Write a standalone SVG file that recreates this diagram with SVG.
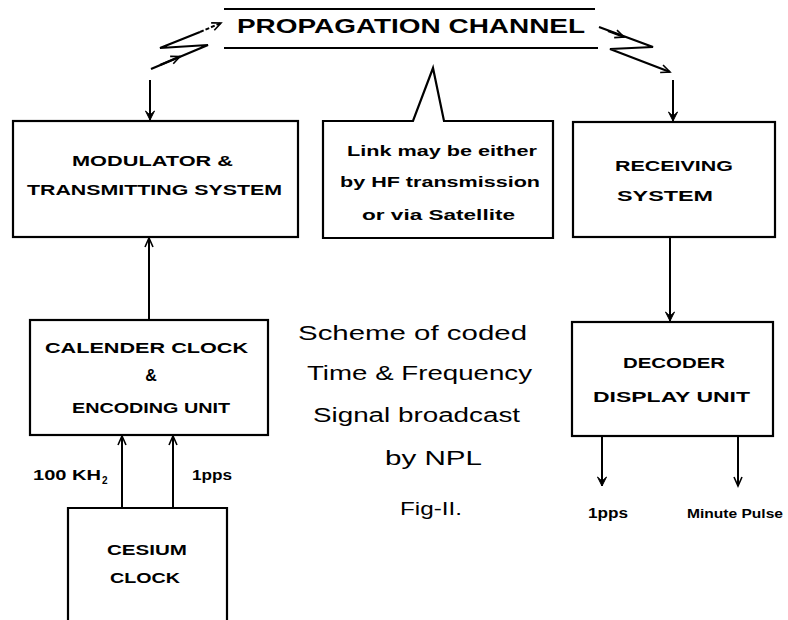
<svg xmlns="http://www.w3.org/2000/svg" width="788" height="620" viewBox="0 0 788 620">
  <style>
    .box { fill: none; stroke: #000; stroke-width: 2.2; }
    .line { fill: none; stroke: #000; stroke-width: 2; }
    .bolt { fill: none; stroke: #000; stroke-width: 2.2; stroke-linejoin: miter; }
    .cap { font-family: "Liberation Sans", Arial, sans-serif; font-weight: bold; font-size: 14.5px; fill: #000; }
    .note { font-family: "Liberation Sans", Arial, sans-serif; font-weight: bold; font-size: 15px; fill: #000; }
    .title { font-family: "Liberation Sans", Arial, sans-serif; font-weight: bold; font-size: 20px; fill: #000; }
    .cap2 { font-family: "Liberation Sans", Arial, sans-serif; font-size: 20px; fill: #000; }
  </style>
  <defs>
    <marker id="solid" viewBox="-10 -6 12 12" markerWidth="12" markerHeight="12" refX="0" refY="0" orient="auto" markerUnits="userSpaceOnUse">
      <path d="M-9,-4.5 L0,0 L-9,4.5 L-5,0 Z" fill="#000" stroke="#000" stroke-width="1"/>
    </marker>
    <marker id="open" viewBox="-10 -6 12 12" markerWidth="12" markerHeight="12" refX="0" refY="0" orient="auto" markerUnits="userSpaceOnUse">
      <path d="M-9,-4 L0,0 L-9,4" fill="none" stroke="#000" stroke-width="1.6"/>
    </marker>
  </defs>

  <!-- channel banner -->
  <g id="channel">
    <line x1="224" y1="9" x2="595" y2="9" class="line" stroke-width="2.6"/>
    <line x1="224" y1="48" x2="598" y2="48" class="line" stroke-width="2.6"/>
    <text x="237" y="33" class="title" textLength="348" lengthAdjust="spacingAndGlyphs">PROPAGATION CHANNEL</text>
  </g>

  <!-- radio links drawn as lightning strokes, plus all box-to-box arrows -->
  <g id="connectors">
    <polyline class="bolt" points="151,69 208,45 160,48 200,32"/>
    <line x1="200" y1="32" x2="221" y2="23" class="line" stroke-width="1.6" stroke-dasharray="4 2" marker-end="url(#open)"/>
    <line x1="160" y1="65" x2="180" y2="56.5" class="line" stroke-width="1" marker-end="url(#open)"/>

    <polyline class="bolt" points="599,27 653,47 610,49 670,72" marker-end="url(#open)"/>
    <line x1="608" y1="31" x2="624" y2="37" class="line" stroke-width="1" marker-end="url(#open)"/>

    <line x1="150" y1="80" x2="150" y2="120" class="line" marker-end="url(#solid)"/>
    <line x1="673" y1="80" x2="673" y2="121" class="line" marker-end="url(#solid)"/>
    <line x1="149" y1="320" x2="149" y2="238" class="line" marker-end="url(#open)"/>
    <line x1="122" y1="508" x2="122" y2="436" class="line" marker-end="url(#open)"/>
    <line x1="173" y1="508" x2="173" y2="436" class="line" marker-end="url(#open)"/>
    <line x1="670" y1="237" x2="670" y2="321" class="line" marker-end="url(#solid)"/>
    <line x1="602" y1="436" x2="602" y2="486" class="line" marker-end="url(#solid)"/>
    <line x1="738" y1="436" x2="738" y2="486" class="line" marker-end="url(#open)"/>
  </g>

  <g id="modulator">
    <rect x="13" y="121" width="285" height="116" class="box"/>
    <text x="72" y="166" class="cap" textLength="161" lengthAdjust="spacingAndGlyphs">MODULATOR &amp;</text>
    <text x="27" y="195" class="cap" textLength="255" lengthAdjust="spacingAndGlyphs">TRANSMITTING SYSTEM</text>
  </g>

  <g id="link-note">
    <path d="M323,121 L413,121 L433,68 L444,121 L553,121 L553,238 L323,238 Z" class="box"/>
    <text x="347" y="156" class="note" textLength="190" lengthAdjust="spacingAndGlyphs">Link may be either</text>
    <text x="340" y="187" class="note" textLength="200" lengthAdjust="spacingAndGlyphs">by HF transmission</text>
    <text x="362" y="220" class="note" textLength="153" lengthAdjust="spacingAndGlyphs">or via Satellite</text>
  </g>

  <g id="receiving">
    <rect x="573" y="122" width="202" height="115" class="box"/>
    <text x="615" y="171" class="cap" textLength="118" lengthAdjust="spacingAndGlyphs">RECEIVING</text>
    <text x="617" y="201" class="cap" textLength="96" lengthAdjust="spacingAndGlyphs">SYSTEM</text>
  </g>

  <g id="calender">
    <rect x="30" y="320" width="238" height="115" class="box"/>
    <text x="45" y="353" class="cap" textLength="203" lengthAdjust="spacingAndGlyphs">CALENDER CLOCK</text>
    <text x="151" y="381" class="cap" style="font-size:16px" text-anchor="middle">&amp;</text>
    <text x="72" y="413" class="cap" textLength="158" lengthAdjust="spacingAndGlyphs">ENCODING UNIT</text>
  </g>

  <g id="cesium">
    <path d="M68,625 L68,508 L227,508 L227,625" class="box"/>
    <text x="107" y="555" class="cap" textLength="80" lengthAdjust="spacingAndGlyphs">CESIUM</text>
    <text x="110" y="583" class="cap" textLength="70" lengthAdjust="spacingAndGlyphs">CLOCK</text>
  </g>

  <g id="input-labels">
    <text x="33" y="480" class="cap" textLength="68" lengthAdjust="spacingAndGlyphs">100 KH</text>
    <text x="102" y="484" class="cap" style="font-size:10px">2</text>
    <text x="192" y="480" class="cap" textLength="40" lengthAdjust="spacingAndGlyphs">1pps</text>
  </g>

  <g id="decoder">
    <rect x="572" y="322" width="201" height="114" class="box"/>
    <text x="623" y="368" class="cap" textLength="102" lengthAdjust="spacingAndGlyphs">DECODER</text>
    <text x="593" y="402" class="cap" textLength="157" lengthAdjust="spacingAndGlyphs">DISPLAY UNIT</text>
  </g>

  <g id="output-labels">
    <text x="588" y="518" class="cap" textLength="40" lengthAdjust="spacingAndGlyphs">1pps</text>
    <text x="687" y="518" class="cap" style="font-size:13px" textLength="96" lengthAdjust="spacingAndGlyphs">Minute Pulse</text>
  </g>

  <g id="caption">
    <text x="298" y="340" class="cap2" textLength="229" lengthAdjust="spacingAndGlyphs">Scheme of coded</text>
    <text x="307" y="380" class="cap2" textLength="225" lengthAdjust="spacingAndGlyphs">Time &amp; Frequency</text>
    <text x="313" y="422" class="cap2" textLength="207" lengthAdjust="spacingAndGlyphs">Signal broadcast</text>
    <text x="385" y="465" class="cap2" textLength="97" lengthAdjust="spacingAndGlyphs">by NPL</text>
    <text x="400" y="515" class="cap2" style="font-size:18px" textLength="62" lengthAdjust="spacingAndGlyphs">Fig-II.</text>
  </g>
</svg>
